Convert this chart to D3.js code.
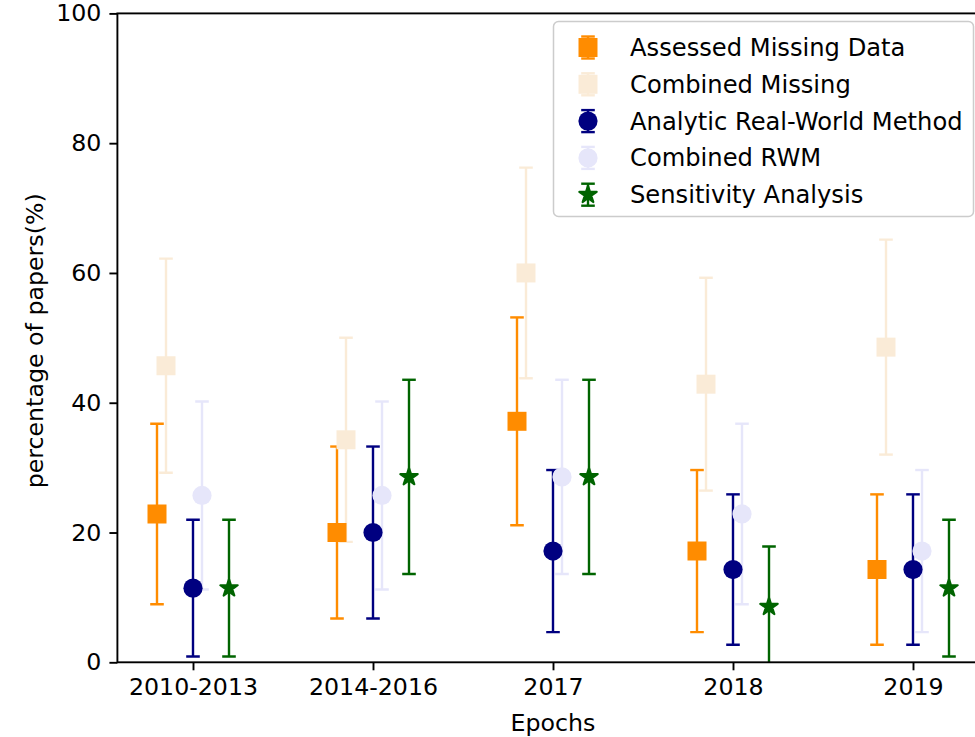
<!DOCTYPE html>
<html>
<head>
<meta charset="utf-8">
<script src="https://cdn.jsdelivr.net/npm/d3@7"></script>
<style>
  html, body { margin: 0; padding: 0; background: #fff; }
  svg { display: block; }
  text { font-family: "DejaVu Sans", sans-serif; fill: #000; }
</style>
</head>
<body>
<svg id="chart" width="975" height="737"></svg>
<script>
// ---- data ----
const epochs = ["2010-2013", "2014-2016", "2017", "2018", "2019"];
const seriesNames = ["Assessed Missing Data", "Combined Missing", "Analytic Real-World Method", "Combined RWM", "Sensitivity Analysis"];
const assessedMissing    = [22.86, 20.00, 37.14, 17.14, 14.29];
const assessedMissingErr = [13.91, 13.25, 16.01, 12.49, 11.59];
const combinedMissing    = [45.71, 34.29, 60.00, 42.86, 48.57];
const combinedMissingErr = [16.50, 15.73, 16.23, 16.40, 16.56];
const analyticRWM        = [11.43, 20.00, 17.14, 14.29, 14.29];
const analyticRWMErr     = [10.54, 13.25, 12.49, 11.59, 11.59];
const combinedRWM        = [25.71, 25.71, 28.57, 22.86, 17.14];
const combinedRWMErr     = [14.48, 14.48, 14.97, 13.91, 12.49];
const sensitivity        = [11.43, 28.57, 28.57, 8.57, 11.43];
const sensitivityErr     = [10.54, 14.97, 14.97, 9.27, 10.54];
const yTicks = [0, 20, 40, 60, 80, 100];
const xLabel = "Epochs";
const yLabel = "percentage of papers(%)";

// ---- styling / layout ----
const seriesValues = [assessedMissing, combinedMissing, analyticRWM, combinedRWM, sensitivity];
const seriesErrors = [assessedMissingErr, combinedMissingErr, analyticRWMErr, combinedRWMErr, sensitivityErr];
const seriesColors = ["#ff8c00", "#faebd7", "#000080", "#e6e6fa", "#006400"];
const seriesShapes = ["square", "square", "circle", "circle", "star"];
const seriesOffsets = [-0.2, -0.15, 0, 0.05, 0.2];

const FONT = 23.7;
const LEGEND_FONT = 24.2;
const svg = d3.select("#chart");

const x = d3.scaleLinear().domain([-0.42, 4.42]).range([117.4, 988.6]);
const y = d3.scaleLinear().domain([0, 100]).range([662.3, 13.4]);

const symbolFor = shape => {
  if (shape === "square") return d3.symbol().type(d3.symbolSquare).size(19 * 19)();
  if (shape === "circle") return d3.symbol().type(d3.symbolCircle).size(Math.PI * 9.6 * 9.6)();
  return d3.symbol().type(d3.symbolStar).size(9.2 * 9.2 / 0.8908130915292852)();
};
const strokeFor = shape => shape === "star" ? 2 : 0;

// clip
svg.append("defs").append("clipPath").attr("id", "plotclip")
  .append("rect")
  .attr("x", x.range()[0]).attr("y", y.range()[1])
  .attr("width", x.range()[1] - x.range()[0])
  .attr("height", y.range()[0] - y.range()[1]);

const plot = svg.append("g").attr("clip-path", "url(#plotclip)");

// error bars (all drawn beneath markers)
const capHalf = 6.8;
const EW = 2.4;
seriesValues.forEach((vals, si) => {
  const g = plot.append("g").attr("stroke", seriesColors[si]).attr("stroke-width", EW).attr("fill", "none");
  vals.forEach((v, i) => {
    const cx = x(i + seriesOffsets[si]);
    const lo = y(v - seriesErrors[si][i]);
    const hi = y(v + seriesErrors[si][i]);
    g.append("line").attr("x1", cx).attr("x2", cx).attr("y1", lo).attr("y2", hi);
    g.append("line").attr("x1", cx - capHalf).attr("x2", cx + capHalf).attr("y1", lo).attr("y2", lo);
    g.append("line").attr("x1", cx - capHalf).attr("x2", cx + capHalf).attr("y1", hi).attr("y2", hi);
  });
});

// markers
seriesValues.forEach((vals, si) => {
  const path = symbolFor(seriesShapes[si]);
  plot.append("g").selectAll("path").data(vals).join("path")
    .attr("d", path)
    .attr("fill", seriesColors[si])
    .attr("stroke", seriesColors[si])
    .attr("stroke-width", strokeFor(seriesShapes[si]))
    .attr("stroke-linejoin", "round")
    .attr("transform", (v, i) => `translate(${x(i + seriesOffsets[si])},${y(v)})`);
});

// axes
const xAxis = d3.axisBottom(x).tickValues(d3.range(epochs.length))
  .tickFormat(i => epochs[i]).tickSize(8).tickPadding(8).tickSizeOuter(0);
const gx = svg.append("g").attr("transform", `translate(0,${y(0)})`).call(xAxis);
gx.select(".domain").remove();
gx.selectAll(".tick line").attr("stroke", "#000").attr("stroke-width", 1.9);
gx.selectAll(".tick text").style("font-family", "DejaVu Sans").style("font-size", FONT + "px").attr("fill", "#000");

const yAxis = d3.axisLeft(y).tickValues(yTicks).tickFormat(d3.format("d"))
  .tickSize(8).tickPadding(8).tickSizeOuter(0);
const gy = svg.append("g").attr("transform", `translate(${x.range()[0]},0)`).call(yAxis);
gy.select(".domain").remove();
gy.selectAll(".tick line").attr("stroke", "#000").attr("stroke-width", 1.9);
gy.selectAll(".tick text").style("font-family", "DejaVu Sans").style("font-size", FONT + "px").attr("fill", "#000");

// spines
const sp = svg.append("g").attr("stroke", "#000").attr("stroke-width", 1.9).attr("fill", "none");
sp.append("rect")
  .attr("x", x.range()[0]).attr("y", y.range()[1])
  .attr("width", x.range()[1] - x.range()[0]).attr("height", y.range()[0] - y.range()[1]);

// axis labels
svg.append("text").attr("x", (x.range()[0] + x.range()[1]) / 2).attr("y", 731)
  .attr("text-anchor", "middle").style("font-size", FONT + "px").text(xLabel);
svg.append("text").attr("transform", `translate(43,${(y.range()[0] + y.range()[1]) / 2 + 3}) rotate(-90)`)
  .attr("text-anchor", "middle").style("font-size", FONT + "px").text(yLabel);

// legend
const lg = svg.append("g");
lg.append("rect").attr("x", 553.5).attr("y", 21.5).attr("width", 420).attr("height", 195)
  .attr("rx", 5).attr("fill", "#fff").attr("fill-opacity", 0.8)
  .attr("stroke", "#cccccc").attr("stroke-width", 1.5);
const rowY = d3.range(seriesNames.length).map(i => 47.5 + i * 36.8);
seriesNames.forEach((name, si) => {
  const cy = rowY[si];
  const hx = 588;
  const g = lg.append("g");
  const eg = g.append("g").attr("stroke", seriesColors[si]).attr("stroke-width", EW);
  eg.append("line").attr("x1", hx).attr("x2", hx).attr("y1", cy - 11).attr("y2", cy + 11);
  eg.append("line").attr("x1", hx - 6.8).attr("x2", hx + 6.8).attr("y1", cy - 11).attr("y2", cy - 11);
  eg.append("line").attr("x1", hx - 6.8).attr("x2", hx + 6.8).attr("y1", cy + 11).attr("y2", cy + 11);
  g.append("path").attr("d", symbolFor(seriesShapes[si])).attr("fill", seriesColors[si])
    .attr("stroke", seriesColors[si]).attr("stroke-width", strokeFor(seriesShapes[si]))
    .attr("stroke-linejoin", "round")
    .attr("transform", `translate(${hx},${cy})`);
  g.append("text").attr("x", 630).attr("y", cy + 8.5).style("font-size", LEGEND_FONT + "px").text(name);
});
</script>
</body>
</html>
